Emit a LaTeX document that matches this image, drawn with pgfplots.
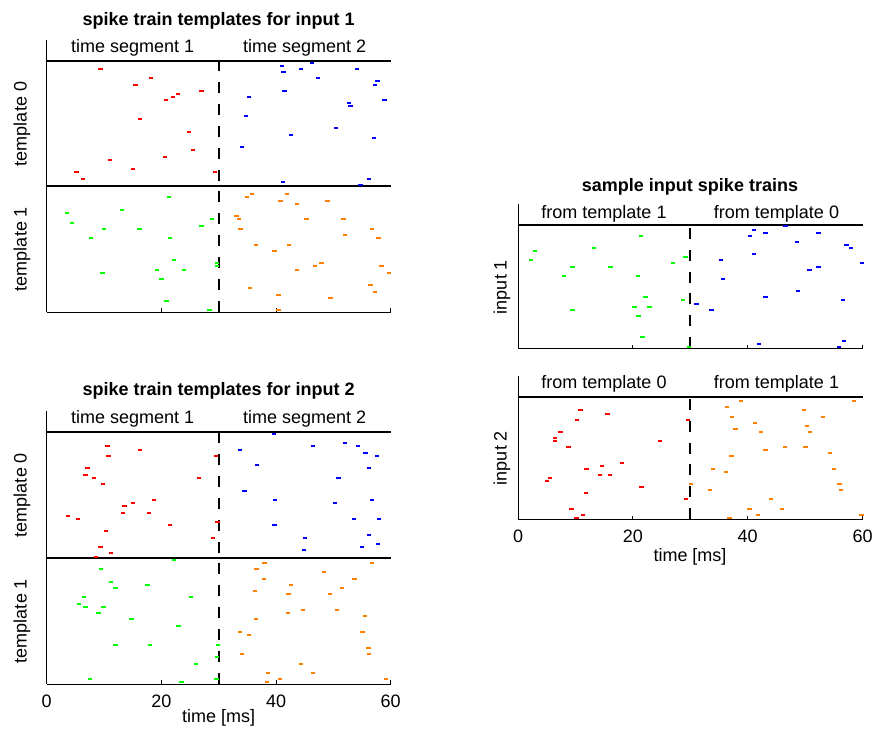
\documentclass[border=0pt]{standalone}
\usepackage{fontspec}
\setmainfont{Liberation Sans}
\usepackage{pgfplots}
\pgfplotsset{compat=1.18}

\definecolor{spkred}{rgb}{1,0,0}
\definecolor{spkblue}{rgb}{0,0,1}
\definecolor{spkgreen}{rgb}{0,1,0}
\definecolor{spkorange}{rgb}{1,0.5,0}
\newcommand\fs{\fontsize{18bp}{21bp}\selectfont}

\pgfplotsset{
  raster/.style={scale only axis, xmin=0, xmax=60, ymin=0,
    axis x line*=bottom, axis y line*=left,
    axis line style={-, line width=0.8bp, black},
    xtick={0,20,40,60}, ytick=\empty, xticklabels={},
    tick align=inside, major tick length=3.5bp,
    tick style={line width=0.8bp, black},
    xticklabel style={font=\fs, yshift=-7bp},
    clip=false},
  spikes/.style={only marks, mark=-, mark size=2.2bp,
    mark options={line width=2bp}, color=#1},
  sep/.style={line width=2bp, black},
  seg/.style={line width=2bp, black, dash pattern=on 11bp off 10.9bp},
}

\begin{document}
\begin{tikzpicture}[x=1bp,y=1bp]
\useasboundingbox (0,0) rectangle (873,732);

% ---------------- templates for input 1 ----------------
\begin{axis}[raster, at={(46.7bp,420bp)}, anchor=south west,
  width=344bp, height=272bp, ymax=86.7]
\addplot[sep] coordinates {(0,80) (60,80)};
\addplot[sep] coordinates {(0,40) (60,40)};
\addplot[seg] coordinates {(30,0) (30,80)};
% template 0, segment 1
\addplot[spikes=spkred] coordinates {
 (9.4,77.5) (18.2,74.5) (15.5,72.5) (27.0,70.5) (22.9,69.5) (22.0,68.5)
 (20.8,67.5) (16.3,61.5) (24.8,57.5) (25.5,51.5) (20.6,49.5) (11.0,48.5)
 (15.1,45.5) (5.2,44.5) (29.4,44.5) (6.3,42.5)};
% template 0, segment 2
\addplot[spikes=spkblue] coordinates {
 (41.0,78.5) (46.3,79.5) (44.4,77.5) (54.1,77.5) (41.3,76.5) (47.3,74.5)
 (57.7,73.5) (57.3,72.5) (41.5,70.5) (35.3,68.5) (58.9,67.5) (52.7,66.5)
 (53.0,65.5) (34.8,62.5) (50.5,58.5) (42.6,56.5) (57.1,55.5) (34.1,52.5)
 (41.2,41.5) (56.2,42.5) (54.7,40.5)};
% template 1, segment 1
\addplot[spikes=spkgreen] coordinates {
 (21.3,36.5) (3.5,31.5) (13.1,32.5) (4.4,28.5) (10.0,26.5) (16.2,26.5)
 (27.0,27.5) (28.8,29.5) (7.7,23.5) (21.5,23.5) (22.2,16.5) (19.2,13.5)
 (23.9,13.5) (9.7,12.5) (20.0,10.5) (20.9,3.5) (28.4,0.5) (29.7,15.5)
 (29.7,14.5)};
% template 1, segment 2
\addplot[spikes=spkorange] coordinates {
 (35.8,37.5) (41.9,37.5) (34.9,36.5) (40.8,35.5) (49.0,35.5) (43.7,34.5)
 (33.1,30.5) (33.5,29.5) (45.3,29.5) (51.8,29.5) (33.8,26.5) (56.7,26.5)
 (52.0,24.5) (57.9,23.5) (36.5,21.5) (42.3,21.5) (39.7,19.5) (47.9,15.5)
 (46.8,14.5) (58.4,14.5) (43.7,13.5) (59.7,12.5) (35.5,7.5) (56.5,8.5)
 (57.3,6.5) (40.4,5.5) (49.5,4.5) (40.4,0.5)};
\end{axis}

% ---------------- templates for input 2 ----------------
\begin{axis}[raster, at={(46.7bp,48bp)}, anchor=south west,
  width=344bp, height=273bp, ymax=86.77, xticklabels={0,20,40,60}]
\addplot[sep] coordinates {(0,80) (60,80)};
\addplot[sep] coordinates {(0,40) (60,40)};
\addplot[seg] coordinates {(30,0) (30,80)};
\addplot[spikes=spkred] coordinates {
 (10.6,75.5) (16.3,74.5) (10.8,72.5) (29.5,72.5) (7.1,68.5) (6.8,66.5)
 (8.3,65.5) (26.6,65.5) (9.8,63.5) (18.7,58.5) (15.0,57.5) (13.6,56.5)
 (13.3,54.5) (17.8,54.5) (3.7,53.5) (5.5,52.5) (21.5,50.5) (29.8,51.5)
 (10.3,48.5) (29.0,46.5) (9.4,43.5) (11.2,41.5) (8.6,40.5)};
\addplot[spikes=spkblue] coordinates {
 (39.6,79.5) (33.7,74.5) (46.4,75.5) (52.0,76.5) (54.3,75.5) (55.6,73.5)
 (57.6,72.5) (36.7,69.5) (56.2,68.5) (50.9,65.5) (34.5,61.5) (39.8,58.5)
 (50.3,57.5) (56.7,58.5) (53.6,52.5) (58.0,52.5) (39.7,50.5) (56.2,47.5)
 (45.0,46.5) (55.0,43.5) (57.8,44.5) (44.9,42.5)};
\addplot[spikes=spkgreen] coordinates {
 (22.2,39.5) (9.5,36.5) (11.2,32.5) (17.6,31.5) (12.0,30.5) (6.5,27.5)
 (25.2,27.5) (5.6,25.5) (6.8,24.5) (9.9,24.5) (9.0,22.5) (14.8,20.5)
 (23.0,18.5) (12.0,12.5) (18.0,12.5) (29.9,12.5) (29.7,8.5) (26.0,6.5)
 (7.5,1.5) (23.5,0.5) (29.6,1.5)};
\addplot[spikes=spkorange] coordinates {
 (38.0,38.5) (56.7,38.5) (36.6,36.5) (48.4,35.5) (37.9,33.5) (53.7,33.5)
 (42.6,31.5) (51.5,30.5) (36.3,29.5) (42.2,28.5) (49.4,28.5) (44.7,23.5)
 (50.6,23.5) (42.1,22.5) (55.5,21.5) (36.5,20.5) (33.7,16.5) (35.3,15.5)
 (55.1,16.5) (56.1,11.5) (34.1,9.5) (56.2,9.5) (44.4,6.5) (38.6,3.5)
 (46.4,3.5) (40.7,1.5) (38.4,0.5) (59.2,1.5)};
\end{axis}

% ---------------- sample input 1 ----------------
\begin{axis}[raster, at={(518bp,383.7bp)}, anchor=south west,
  width=344.5bp, height=144.3bp, ymax=46.8]
\addplot[sep] coordinates {(0,40) (60,40)};
\addplot[seg] coordinates {(30,0) (30,40)};
\addplot[spikes=spkgreen] coordinates {
 (21.4,36.5) (3.0,31.5) (13.2,32.5) (2.3,28.5) (9.5,26.5) (16.1,26.5)
 (27.0,27.5) (29.2,29.5) (8.0,23.5) (20.9,23.5) (22.2,16.5) (20.3,13.5)
 (22.9,13.5) (9.5,12.5) (21.0,10.5) (21.7,3.5) (28.7,15.5) (29.8,0.5)};
\addplot[spikes=spkblue] coordinates {
 (41.1,38.5) (46.6,39.5) (40.4,36.5) (43.1,37.5) (52.3,37.5) (48.6,34.5)
 (57.2,33.5) (58.0,32.5) (41.1,30.5) (35.4,28.5) (59.9,27.5) (52.3,26.5)
 (50.8,25.5) (35.7,22.5) (48.8,18.5) (43.1,16.5) (56.6,15.5) (31.1,14.5)
 (33.7,12.5) (42.0,1.5) (56.8,2.5) (55.9,0.5)};
\end{axis}

% ---------------- sample input 2 ----------------
\begin{axis}[raster, at={(518bp,212.7bp)}, anchor=south west,
  width=344.5bp, height=143.6bp, ymax=46.85, xticklabels={0,20,40,60}]
\addplot[sep] coordinates {(0,40) (60,40)};
\addplot[seg] coordinates {(30,0) (30,40)};
\addplot[spikes=spkred] coordinates {
 (10.9,35.5) (15.6,34.5) (10.3,32.5) (29.6,32.5) (7.4,28.5) (6.4,26.5)
 (6.4,25.5) (24.7,25.5) (8.8,23.5) (18.1,18.5) (14.6,17.5) (11.9,16.5)
 (14.3,14.5) (16.0,14.5) (5.6,13.5) (5.1,12.5) (21.5,10.5) (11.8,8.5)
 (29.3,6.5) (9.3,3.5) (11.3,1.5) (10.2,0.5)};
\addplot[spikes=spkorange] coordinates {
 (38.8,38.5) (58.5,38.5) (36.4,36.5) (49.8,35.5) (37.3,33.5) (53.1,33.5)
 (41.3,31.5) (50.3,30.5) (37.9,29.5) (42.3,28.5) (50.9,28.5) (43.1,22.5)
 (46.5,23.5) (50.1,23.5) (54.3,21.5) (37.2,20.5) (34.0,16.5) (36.2,15.5)
 (55.0,16.5) (30.1,11.5) (56.0,11.5) (33.4,9.5) (56.3,9.5) (44.1,6.5)
 (40.3,3.5) (46.0,3.5) (41.8,1.5) (36.8,0.5) (59.8,1.5)};
\end{axis}

% ---------------- titles and labels ----------------
\begin{scope}[every node/.style={font=\fs}]
\node[font=\fs\bfseries, anchor=base] at (218.7,706) {spike train templates for input 1};
\node[anchor=base] at (132.7,679) {time segment 1};
\node[anchor=base] at (304.7,679) {time segment 2};
\node[rotate=90] at (22,608) {template 0};
\node[rotate=90] at (22,483) {template 1};

\node[font=\fs\bfseries, anchor=base] at (218.7,336) {spike train templates for input 2};
\node[anchor=base] at (132.7,308) {time segment 1};
\node[anchor=base] at (304.7,308) {time segment 2};
\node[rotate=90] at (22,237) {template 0};
\node[rotate=90] at (22,111) {template 1};
\node at (218.7,14) {time [ms]};

\node[font=\fs\bfseries, anchor=base] at (690,540) {sample input spike trains};
\node[anchor=base] at (604,513) {from template 1};
\node[anchor=base] at (776.5,513) {from template 0};
\node[rotate=90] at (502,445) {input 1};
\node[anchor=base] at (604,343) {from template 0};
\node[anchor=base] at (776.5,343) {from template 1};
\node[rotate=90] at (502,274) {input 2};
\node at (690,175) {time [ms]};
\end{scope}
\end{tikzpicture}
\end{document}
